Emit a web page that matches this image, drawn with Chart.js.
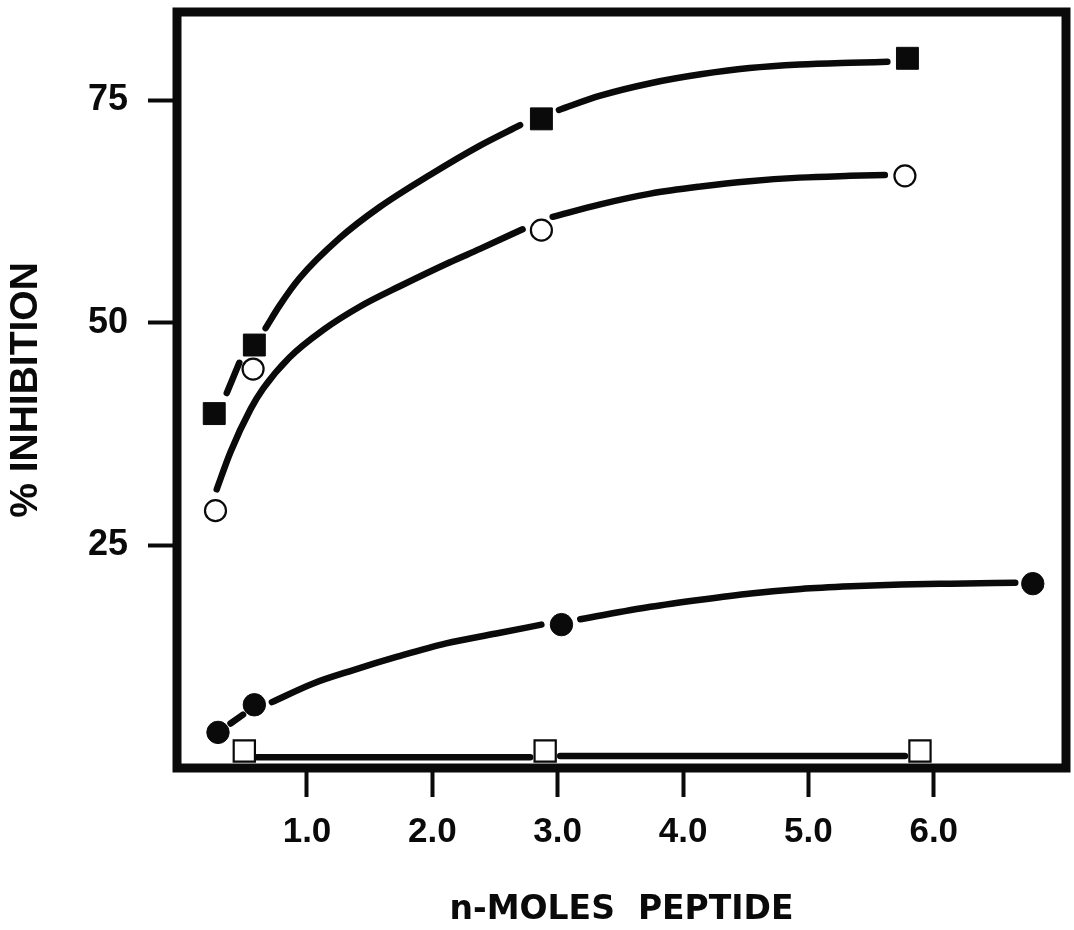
<!DOCTYPE html>
<html>
<head>
<meta charset="utf-8">
<script src="https://cdn.jsdelivr.net/npm/chart.js@4"></script>
<style>
  html, body { margin: 0; padding: 0; background: #fff; }
  canvas { display: block; }
</style>
</head>
<body>
<canvas id="graph" width="1074" height="930"></canvas>
<script>
const graphRef = document.getElementById('graph');

// axis ticks
const xTicks = [1, 2, 3, 4, 5, 6];
const yTicks = [25, 50, 75];

// measured points (n-moles peptide, % inhibition)
const filledSquareX = [0.26, 0.58, 2.87, 5.79];
const filledSquareY = [39.8, 47.5, 72.9, 79.7];
const openCircleX = [0.27, 0.57, 2.87, 5.77];
const openCircleY = [28.9, 44.8, 60.4, 66.5];
const filledCircleX = [0.29, 0.58, 3.03, 6.79];
const filledCircleY = [4.0, 7.1, 16.1, 20.7];
const openSquareX = [0.5, 2.9, 5.89];
const openSquareY = [1.9, 1.9, 1.9];

// hand-drawn curves, broken where they stop short of a marker
const filledSquareCurveX = [
  [0.36, 0.46],
  [0.67, 0.78, 0.94, 1.26, 1.58, 1.98, 2.38, 2.70],
  [3.01, 3.34, 3.74, 4.14, 4.53, 4.93, 5.33, 5.63],
];
const filledSquareCurveY = [
  [42.1, 45.5],
  [49.4, 51.9, 55.0, 59.5, 63.0, 66.6, 69.9, 72.2],
  [73.9, 75.5, 76.9, 77.9, 78.6, 79.0, 79.2, 79.3],
];
const openCircleCurveX = [
  [0.28, 0.39, 0.55, 0.65, 0.86, 1.13, 1.42, 1.74, 2.14, 2.38, 2.72],
  [2.96, 3.34, 3.74, 4.14, 4.53, 4.93, 5.33, 5.61],
];
const openCircleCurveY = [
  [31.3, 35.5, 40.3, 42.6, 46.1, 49.2, 51.8, 54.1, 56.8, 58.3, 60.5],
  [61.9, 63.3, 64.5, 65.3, 65.9, 66.3, 66.5, 66.6],
];
const filledCircleCurveX = [
  [0.39, 0.49],
  [0.72, 1.05, 1.37, 1.72, 2.11, 2.51, 2.87],
  [3.18, 3.74, 4.14, 4.54, 4.94, 5.34, 5.74, 6.14, 6.65],
];
const filledCircleCurveY = [
  [5.0, 6.0],
  [7.4, 9.5, 11.0, 12.5, 14.0, 15.1, 16.1],
  [16.7, 18.1, 18.9, 19.6, 20.1, 20.4, 20.6, 20.7, 20.8],
];
const openSquareCurveX = [
  [0.6, 2.78],
  [3.02, 5.77],
];
const openSquareCurveY = [
  [1.2, 1.2],
  [1.35, 1.35],
];

const INK = '#0a0a0a';

function toPoints(xs, ys) {
  return xs.map((x, i) => ({ x, y: ys[i] }));
}

function curveDatasets(xSegs, ySegs) {
  return xSegs.map((xs, i) => ({
    data: toPoints(xs, ySegs[i]),
    showLine: true,
    borderColor: INK,
    borderWidth: 6.5,
    borderCapStyle: 'round',
    cubicInterpolationMode: 'monotone',
    pointRadius: 0,
    order: 2,
  }));
}

function markerDataset(xs, ys, style, filled, radius) {
  return {
    data: toPoints(xs, ys),
    showLine: false,
    pointStyle: style,
    pointRadius: radius,
    pointBackgroundColor: filled ? INK : '#fff',
    pointBorderColor: INK,
    pointBorderWidth: filled ? 1 : 2.2,
    order: 0,
  };
}

const datasets = [
  ...curveDatasets(filledSquareCurveX, filledSquareCurveY),
  ...curveDatasets(openCircleCurveX, openCircleCurveY),
  ...curveDatasets(filledCircleCurveX, filledCircleCurveY),
  ...curveDatasets(openSquareCurveX, openSquareCurveY),
  markerDataset(filledSquareX, filledSquareY, 'rect', true, 15.5),
  markerDataset(openCircleX, openCircleY, 'circle', false, 10.5),
  markerDataset(filledCircleX, filledCircleY, 'circle', true, 11.2),
  markerDataset(openSquareX, openSquareY, 'rect', false, 15),
];

// heavy frame round the plot area
const framePlugin = {
  id: 'frame',
  beforeDatasetsDraw(chart) {
    const { ctx, chartArea } = chart;
    ctx.save();
    ctx.strokeStyle = INK;
    ctx.lineWidth = 9;
    ctx.lineJoin = 'miter';
    ctx.strokeRect(chartArea.left, chartArea.top,
      chartArea.right - chartArea.left, chartArea.bottom - chartArea.top);
    ctx.restore();
  },
};

new Chart(graphRef, {
  type: 'scatter',
  data: { datasets },
  plugins: [framePlugin],
  options: {
    responsive: false,
    animation: false,
    devicePixelRatio: 1,
    layout: { autoPadding: false, padding: { top: 12, right: 8, left: 0, bottom: 0 } },
    plugins: {
      legend: { display: false },
      tooltip: { enabled: false },
    },
    scales: {
      x: {
        type: 'linear',
        min: -0.037,
        max: 7.055,
        afterBuildTicks: (scale) => {
          scale.ticks = xTicks.map((value) => ({ value }));
        },
        afterFit: (scale) => {
          scale.height = 162;
          scale.paddingLeft = 0;
          scale.paddingRight = 0;
        },
        border: { display: false },
        grid: {
          drawOnChartArea: false,
          drawTicks: true,
          tickLength: 29,
          tickWidth: 4,
          tickColor: INK,
        },
        ticks: {
          color: INK,
          padding: 14,
          maxRotation: 0,
          font: { family: 'Liberation Sans, Arial, sans-serif', size: 35, weight: 'bold' },
          callback: (v) => Number(v).toFixed(1),
        },
        title: {
          display: true,
          text: 'n-MOLES  PEPTIDE',
          color: INK,
          padding: { top: 0, bottom: 0 },
          font: { family: 'DejaVu Sans, sans-serif', size: 33, weight: 'bold' },
        },
      },
      y: {
        type: 'linear',
        min: 0,
        max: 84.9,
        afterBuildTicks: (scale) => {
          scale.ticks = yTicks.map((value) => ({ value }));
        },
        afterFit: (scale) => {
          scale.width = 177;
          scale.paddingTop = 0;
          scale.paddingBottom = 0;
        },
        border: { display: false },
        grid: {
          drawOnChartArea: false,
          drawTicks: true,
          tickLength: 29,
          tickWidth: 4,
          tickColor: INK,
        },
        ticks: {
          color: INK,
          padding: 20,
          font: { family: 'Liberation Sans, Arial, sans-serif', size: 36, weight: 'bold' },
        },
        title: {
          display: true,
          text: '% INHIBITION',
          color: INK,
          padding: { top: 3, bottom: 0 },
          font: { family: 'Liberation Sans, Arial, sans-serif', size: 39, weight: 'bold' },
        },
      },
    },
  },
});
</script>
</body>
</html>
